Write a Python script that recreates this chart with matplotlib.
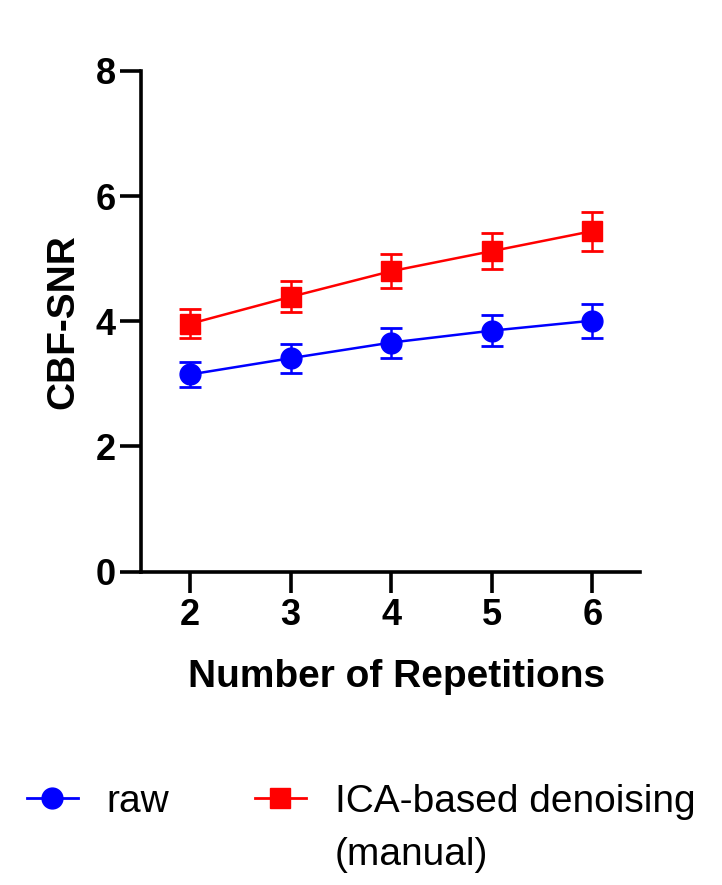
import matplotlib
matplotlib.use("Agg")
import matplotlib.pyplot as plt
from matplotlib.lines import Line2D

plt.rcParams['font.family'] = ['Liberation Sans', 'DejaVu Sans']

repetitions = [2, 3, 4, 5, 6]
raw_mean = [3.15, 3.41, 3.66, 3.85, 4.01]
raw_err = [0.20, 0.23, 0.24, 0.25, 0.27]
ica_mean = [3.96, 4.39, 4.80, 5.12, 5.44]
ica_err = [0.23, 0.25, 0.27, 0.29, 0.31]
series_labels = ["raw", "ICA-based denoising"]
series_label_extra = "(manual)"
x_label = "Number of Repetitions"
y_label = "CBF-SNR"
y_ticks = [0, 2, 4, 6, 8]

fig = plt.figure(figsize=(7.22, 8.85), dpi=100)
ax = fig.add_axes([0.195, 0.354, 0.691, 0.566])

ax.errorbar(repetitions, raw_mean, yerr=raw_err, color='#0000ff', marker='o',
            markersize=15, linewidth=1.8, elinewidth=1.8, capsize=8, capthick=2)
ax.errorbar(repetitions, ica_mean, yerr=ica_err, color='#ff0000', marker='s',
            markersize=14, linewidth=1.8, elinewidth=1.8, capsize=8, capthick=2)

ax.set_xlim(1.51, 6.47)
ax.set_ylim(0, 8)
ax.set_yticks(y_ticks)
ax.set_xticks(repetitions)
for s in ['top', 'right']:
    ax.spines[s].set_visible(False)
for s in ['left', 'bottom']:
    ax.spines[s].set_linewidth(2.6)
ax.tick_params(axis='both', width=2.6, length=15, labelsize=26)
ax.tick_params(axis='x', pad=4)
ax.tick_params(axis='y', pad=3)
for lbl in ax.get_xticklabels() + ax.get_yticklabels():
    lbl.set_fontweight('bold')
ax.set_xlabel(x_label, fontsize=28, fontweight='bold')
ax.set_ylabel(y_label, fontsize=28, fontweight='bold')
ax.xaxis.set_label_coords(0.512, -0.175)
ax.yaxis.set_label_coords(-0.12, 0.5)

handles = [
    Line2D([], [], color='#0000ff', marker='o', markersize=15, linewidth=2),
    Line2D([], [], color='#ff0000', marker='s', markersize=14, linewidth=2),
]
leg = fig.legend(handles, series_labels, loc='center left',
                 bbox_to_anchor=(27 / 722, (885 - 802) / 885),
                 bbox_transform=fig.transFigure,
                 ncol=2, frameon=False, fontsize=28, handlelength=1.3,
                 columnspacing=2.2, handletextpad=0.75, borderpad=0,
                 borderaxespad=0)

fig.canvas.draw()
t = leg.get_texts()[1]
bb = t.get_window_extent(fig.canvas.get_renderer())
fig.text(bb.x0 / fig.bbox.width, (bb.y1 - 53) / fig.bbox.height,
         series_label_extra, fontsize=28, ha='left', va='top')

fig.savefig("out.png", dpi=100)
